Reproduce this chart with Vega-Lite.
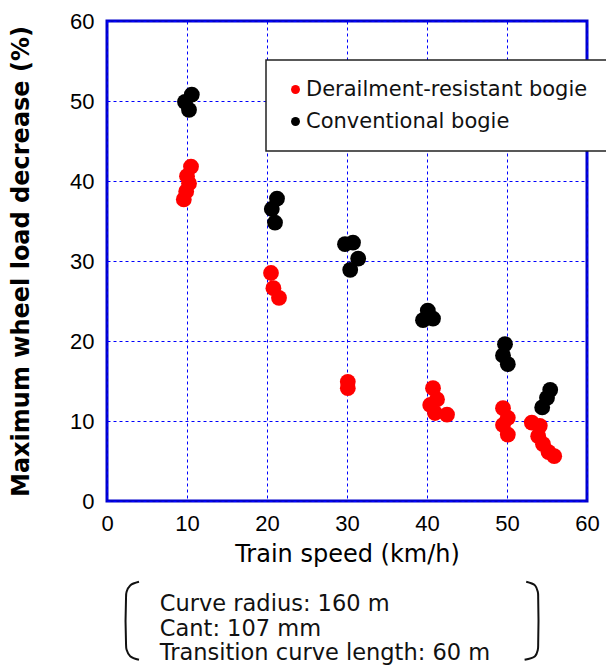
{
  "$schema": "https://vega.github.io/schema/vega-lite/v6.json",
  "autosize": {"type": "none"},
  "padding": {"left": 107, "top": 21, "right": 19, "bottom": 165},
  "width": 480,
  "height": 480,
  "background": "white",
  "config": {
    "view": {"stroke": "#0000cc", "strokeWidth": 3},
    "axis": {
      "domain": false,
      "grid": true,
      "gridColor": "#0000ff",
      "gridDash": [3, 3],
      "gridWidth": 1,
      "gridOpacity": 1,
      "ticks": false,
      "labelFont": "Liberation Sans",
      "labelFontSize": 22,
      "labelColor": "#000",
      "labelFlush": false,
      "titleFont": "DejaVu Sans",
      "titleColor": "#000"
    }
  },
  "datasets": {
    "points": [
      {"speed": 10.5, "decrease": 41.8, "bogie": "Derailment-resistant bogie"},
      {"speed": 10.0, "decrease": 40.6, "bogie": "Derailment-resistant bogie"},
      {"speed": 10.25, "decrease": 39.7, "bogie": "Derailment-resistant bogie"},
      {"speed": 9.9, "decrease": 38.7, "bogie": "Derailment-resistant bogie"},
      {"speed": 9.6, "decrease": 37.7, "bogie": "Derailment-resistant bogie"},
      {"speed": 20.5, "decrease": 28.5, "bogie": "Derailment-resistant bogie"},
      {"speed": 20.8, "decrease": 26.6, "bogie": "Derailment-resistant bogie"},
      {"speed": 21.5, "decrease": 25.4, "bogie": "Derailment-resistant bogie"},
      {"speed": 30.1, "decrease": 14.9, "bogie": "Derailment-resistant bogie"},
      {"speed": 30.1, "decrease": 14.1, "bogie": "Derailment-resistant bogie"},
      {"speed": 40.75, "decrease": 14.1, "bogie": "Derailment-resistant bogie"},
      {"speed": 41.25, "decrease": 12.7, "bogie": "Derailment-resistant bogie"},
      {"speed": 40.4, "decrease": 12.0, "bogie": "Derailment-resistant bogie"},
      {"speed": 41.0, "decrease": 11.0, "bogie": "Derailment-resistant bogie"},
      {"speed": 42.5, "decrease": 10.8, "bogie": "Derailment-resistant bogie"},
      {"speed": 49.5, "decrease": 11.6, "bogie": "Derailment-resistant bogie"},
      {"speed": 50.1, "decrease": 10.4, "bogie": "Derailment-resistant bogie"},
      {"speed": 49.5, "decrease": 9.5, "bogie": "Derailment-resistant bogie"},
      {"speed": 50.1, "decrease": 8.3, "bogie": "Derailment-resistant bogie"},
      {"speed": 53.1, "decrease": 9.8, "bogie": "Derailment-resistant bogie"},
      {"speed": 54.1, "decrease": 9.4, "bogie": "Derailment-resistant bogie"},
      {"speed": 53.9, "decrease": 8.1, "bogie": "Derailment-resistant bogie"},
      {"speed": 54.5, "decrease": 7.1, "bogie": "Derailment-resistant bogie"},
      {"speed": 55.2, "decrease": 6.1, "bogie": "Derailment-resistant bogie"},
      {"speed": 55.9, "decrease": 5.6, "bogie": "Derailment-resistant bogie"},
      {"speed": 10.6, "decrease": 50.8, "bogie": "Conventional bogie"},
      {"speed": 9.75, "decrease": 49.9, "bogie": "Conventional bogie"},
      {"speed": 10.25, "decrease": 48.9, "bogie": "Conventional bogie"},
      {"speed": 21.25, "decrease": 37.8, "bogie": "Conventional bogie"},
      {"speed": 20.6, "decrease": 36.5, "bogie": "Conventional bogie"},
      {"speed": 21.0, "decrease": 34.8, "bogie": "Conventional bogie"},
      {"speed": 29.75, "decrease": 32.1, "bogie": "Conventional bogie"},
      {"speed": 30.75, "decrease": 32.3, "bogie": "Conventional bogie"},
      {"speed": 31.4, "decrease": 30.3, "bogie": "Conventional bogie"},
      {"speed": 30.4, "decrease": 28.9, "bogie": "Conventional bogie"},
      {"speed": 40.1, "decrease": 23.8, "bogie": "Conventional bogie"},
      {"speed": 39.5, "decrease": 22.6, "bogie": "Conventional bogie"},
      {"speed": 40.75, "decrease": 22.8, "bogie": "Conventional bogie"},
      {"speed": 49.75, "decrease": 19.6, "bogie": "Conventional bogie"},
      {"speed": 49.5, "decrease": 18.2, "bogie": "Conventional bogie"},
      {"speed": 50.1, "decrease": 17.1, "bogie": "Conventional bogie"},
      {"speed": 55.4, "decrease": 13.9, "bogie": "Conventional bogie"},
      {"speed": 55.0, "decrease": 12.9, "bogie": "Conventional bogie"},
      {"speed": 54.4, "decrease": 11.7, "bogie": "Conventional bogie"}
    ],
    "note": [
      {"text": "Curve radius: 160 m\nCant: 107 mm\nTransition curve length: 60 m"}
    ],
    "bracket": [
      {"side": "left", "bx": 4.0, "by": -10.1},
      {"side": "left", "bx": 2.9, "by": -10.55},
      {"side": "left", "bx": 2.45, "by": -11.35},
      {"side": "left", "bx": 2.375, "by": -12.25},
      {"side": "left", "bx": 2.375, "by": -17.7},
      {"side": "left", "bx": 2.45, "by": -18.6},
      {"side": "left", "bx": 2.9, "by": -19.4},
      {"side": "left", "bx": 4.0, "by": -19.85},
      {"side": "right", "bx": 52.4, "by": -10.1},
      {"side": "right", "bx": 53.5, "by": -10.55},
      {"side": "right", "bx": 53.85, "by": -11.35},
      {"side": "right", "bx": 53.9, "by": -12.25},
      {"side": "right", "bx": 53.9, "by": -17.7},
      {"side": "right", "bx": 53.85, "by": -18.6},
      {"side": "right", "bx": 53.5, "by": -19.4},
      {"side": "right", "bx": 52.2, "by": -19.85}
    ]
  },
  "layer": [
    {
      "data": {"name": "points"},
      "mark": {"type": "point", "filled": true, "opacity": 1, "size": 250, "shape": "circle"},
      "encoding": {
        "x": {
          "field": "speed", "type": "quantitative",
          "scale": {"domain": [0, 60], "nice": false, "zero": false},
          "axis": {
            "values": [0, 10, 20, 30, 40, 50, 60],
            "title": "Train speed (km/h)", "titleFontSize": 24, "titleFontWeight": "normal",
            "labelPadding": 12, "titlePadding": 8
          }
        },
        "y": {
          "field": "decrease", "type": "quantitative",
          "scale": {"domain": [0, 60], "nice": false, "zero": false},
          "axis": {
            "values": [0, 10, 20, 30, 40, 50, 60],
            "title": "Maximum wheel load decrease (%)", "titleFontSize": 24, "titleFontWeight": "bold",
            "labelPadding": 13, "titlePadding": 36
          }
        },
        "color": {
          "field": "bogie", "type": "nominal",
          "scale": {"domain": ["Derailment-resistant bogie", "Conventional bogie"], "range": ["#ff0000", "#000000"]},
          "legend": {
            "title": null,
            "orient": "none",
            "legendX": 159,
            "legendY": 39,
            "padding": 19,
            "rowPadding": 10,
            "strokeColor": "#222",
            "fillColor": "white",
            "symbolType": "circle",
            "symbolSize": 80,
            "symbolOpacity": 1,
            "symbolStrokeWidth": 0,
            "labelFont": "DejaVu Sans",
            "labelFontSize": 21,
            "labelColor": "#111",
            "labelOffset": 0,
            "labelLimit": 400,
            "encode": {"legend": {"update": {"strokeWidth": {"value": 1.5}}}}
          }
        }
      }
    },
    {
      "data": {"name": "note"},
      "mark": {"type": "text", "align": "left", "baseline": "top", "font": "DejaVu Sans", "fontSize": 22.5, "lineHeight": 24.3, "lineBreak": "\n", "color": "#111"},
      "encoding": {
        "x": {"datum": 6.6, "type": "quantitative"},
        "y": {"datum": -11.55, "type": "quantitative"},
        "text": {"field": "text"}
      }
    },
    {
      "data": {"name": "bracket"},
      "mark": {"type": "line", "interpolate": "catmull-rom", "color": "#111", "strokeWidth": 2},
      "encoding": {
        "x": {"field": "bx", "type": "quantitative"},
        "y": {"field": "by", "type": "quantitative"},
        "detail": {"field": "side"},
        "order": {"value": null}
      }
    }
  ]
}
